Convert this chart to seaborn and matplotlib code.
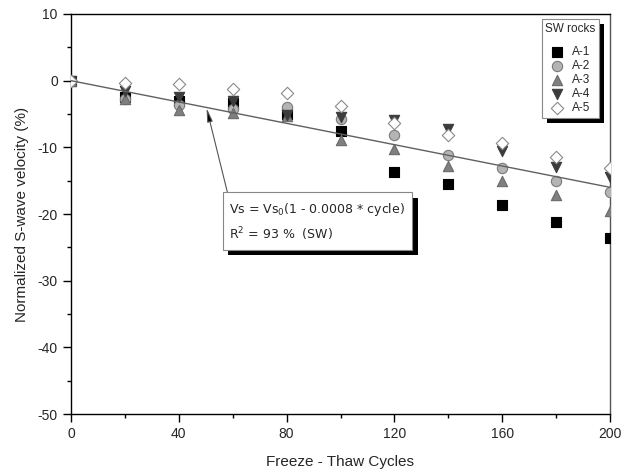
import matplotlib
matplotlib.use("Agg")
import matplotlib.pyplot as plt
import matplotlib.patheffects as pe
from matplotlib.ticker import MultipleLocator
import seaborn as sns

# ---- data ----
cycles = [0, 20, 40, 60, 80, 100, 120, 140, 160, 180, 200]
a1 = [0, -2.5, -3.0, -3.3, -5.0, -7.6, -13.7, -15.5, -18.6, -21.2, -23.6]
a2 = [0, -2.8, -3.7, -4.3, -4.0, -5.8, -8.2, -11.1, -13.1, -15.0, -16.7]
a3 = [0, -2.8, -4.4, -4.8, -5.3, -8.9, -10.2, -12.8, -15.1, -17.2, -19.5]
a4 = [0, -1.6, -2.5, -3.0, -5.2, -5.5, -5.9, -7.3, -10.6, -13.0, -14.5]
a5 = [0, -0.3, -0.5, -1.2, -1.9, -3.8, -6.3, -8.1, -9.4, -11.4, -13.1]
series_names = ["A-1", "A-2", "A-3", "A-4", "A-5"]
fit_x = [0, 200]
fit_y = [0, -16]
arrow_tip = (50.3, -4.1)
x_ticks = [0, 40, 80, 120, 160, 200]
y_ticks = [10, 0, -10, -20, -30, -40, -50]

sns.set_style("ticks")
plt.rcParams["font.family"] = ["Liberation Sans", "DejaVu Sans"]
plt.rcParams["axes.unicode_minus"] = False

fig = plt.figure(figsize=(6.34, 4.75), dpi=100)
ax = fig.add_axes([71 / 634, 1 - 414 / 475, (610 - 71) / 634, 400 / 475])

styles = [
    ("s", "black", "black", 3),
    ("o", "#b4b4b4", "#7a7a7a", 4),
    ("^", "#7f7f7f", "#6a6a6a", 5),
    ("v", "#3c3c3c", "#3c3c3c", 6),
    ("D", "white", "#8a8a8a", 7),
]
sizes = [42, 55, 55, 55, 40]
for name, vals, (m, fc, ec, z), sz in zip(series_names, [a1, a2, a3, a4, a5], styles, sizes):
    sns.scatterplot(x=cycles, y=vals, ax=ax, marker=m, s=sz, color=fc,
                    edgecolor=ec, linewidth=0.8, label=name, zorder=z, clip_on=True)

sns.lineplot(x=fit_x, y=fit_y, ax=ax, color="#606060", linewidth=1.0, zorder=8)

ax.set_xlim(0, 200)
ax.set_ylim(-50, 10)
ax.set_xticks(x_ticks)
ax.set_yticks(y_ticks)
ax.xaxis.set_minor_locator(MultipleLocator(20))
ax.yaxis.set_minor_locator(MultipleLocator(5))
ax.tick_params(which="major", direction="out", length=5.5, width=1, labelsize=10, pad=4, color="black")
ax.tick_params(which="minor", direction="out", length=3, width=1, color="black")
for sp in ax.spines.values():
    sp.set_visible(True)
    sp.set_color("black")
    sp.set_linewidth(1.0)
ax.spines["right"].set_color("#555555")

ax.set_xlabel("Freeze - Thaw Cycles", fontsize=11, labelpad=10)
ax.set_ylabel("Normalized S-wave velocity (%)", fontsize=11, labelpad=6)

# annotation box with arrow
ann = ax.annotate(
    "Vs = Vs$_0$(1 - 0.0008 * cycle)\nR$^2$ = 93 %  (SW)",
    xy=arrow_tip, xycoords="data",
    xytext=(58.8, -18.0), textcoords="data",
    ha="left", va="top", fontsize=9, family="DejaVu Sans", linespacing=1.55,
    bbox=dict(boxstyle="square,pad=0.55", fc="white", ec="#888888", lw=0.8),
    arrowprops=dict(arrowstyle="-|>,head_length=0.9,head_width=0.18", color="#555555",
                    fc="black", lw=0.8, relpos=(0, 1), shrinkA=0, shrinkB=0),
    zorder=10,
)
ann.get_bbox_patch().set_path_effects(
    [pe.withSimplePatchShadow(offset=(4, -4), shadow_rgbFace="black", alpha=1.0)])

leg = ax.legend(title="SW rocks", loc="upper right",
                bbox_to_anchor=(1 - 11 / 539, 1 - 5 / 400), borderaxespad=0,
                fancybox=False, edgecolor="#8a8a8a", framealpha=1, fontsize=8.5,
                title_fontsize=8.5, labelspacing=0.18, handletextpad=0.7,
                borderpad=0.3, handlelength=1.2)
leg._legend_box.sep = 8
leg.get_frame().set_linewidth(0.8)
leg.legendPatch.set_path_effects(
    [pe.withSimplePatchShadow(offset=(3.5, -3.5), shadow_rgbFace="black", alpha=1.0)])
leg.set_zorder(20)

fig.savefig("out.png", dpi=100)
